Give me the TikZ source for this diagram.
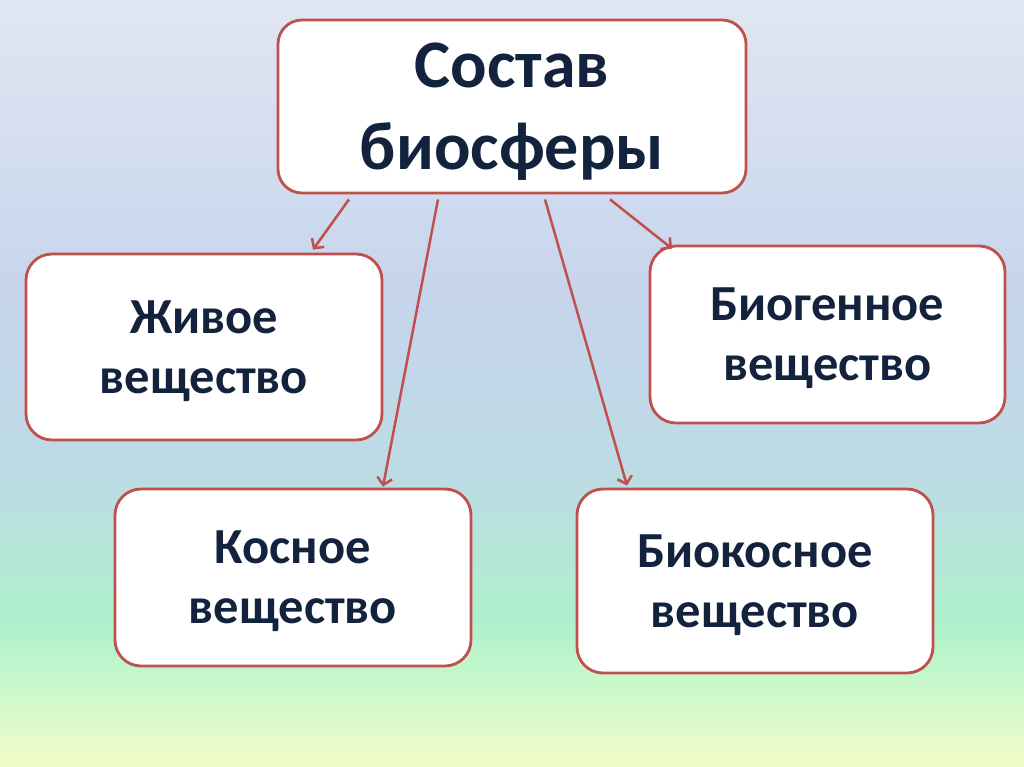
\documentclass[tikz,border=0pt]{standalone}
\usepackage{fontspec}
\setmainfont{Carlito}
\usetikzlibrary{arrows.meta}
\definecolor{edge}{HTML}{C0504D}
\definecolor{ink}{HTML}{13233D}
\definecolor{bgA}{HTML}{F2FCC8}
\definecolor{bgB}{HTML}{C6F8CC}
\definecolor{bgC}{HTML}{AEF0CC}
\definecolor{bgD}{HTML}{BCDCE4}
\definecolor{bgE}{HTML}{C6D4EC}
\definecolor{bgF}{HTML}{E0E7F2}
\pgfdeclareverticalshading{bgshade}{100bp}{color(0bp)=(bgA); color(25bp)=(bgA); color(30.67bp)=(bgB); color(34.58bp)=(bgC); color(43.71bp)=(bgD); color(55.44bp)=(bgE); color(75bp)=(bgF); color(100bp)=(bgF)}
\tikzset{
  box/.style={draw=edge, line width=2.8pt, fill=white, rounded corners=26pt,
    align=center, text=ink, inner sep=0pt, text depth=0pt, font=\bfseries\fontsize{50.5}{60}\selectfont},
  topbox/.style={box, font=\bfseries\fontsize{68}{82}\selectfont, rounded corners=24pt},
  link/.style={draw=edge, line width=2.5pt, -{Straight Barb[length=7pt,width=15pt,line width=2.5pt]}}
}
\begin{document}
\begin{tikzpicture}[x=1pt,y=-1pt]
\useasboundingbox (0,0) rectangle (1024,767);
\shade[shading=bgshade] (0,0) rectangle (1024,767);
\node[topbox, minimum width=468pt, minimum height=173pt] (top) at (512,106.5) {Состав\\биосферы};
\node[box, minimum width=356pt, minimum height=186pt] (live) at (204,347) {Живое\\вещество};
\node[box, minimum width=355pt, minimum height=177pt] (biogen) at (827.5,334.5) {Биогенное\\вещество};
\node[box, minimum width=356pt, minimum height=177pt] (inert) at (293,577.5) {Косное\\вещество};
\node[box, minimum width=356pt, minimum height=184pt] (bioinert) at (755,581) {Биокосное\\вещество};
\draw[link] ([xshift=-163pt,yshift=-5pt]top.south) -- ([xshift=109pt,yshift=3pt]live.north);
\draw[link] ([xshift=-74pt,yshift=-5pt]top.south) -- ([xshift=90pt,yshift=1pt]inert.north);
\draw[link] ([xshift=33pt,yshift=-5pt]top.south) -- ([xshift=-128pt,yshift=2pt]bioinert.north);
\draw[link] ([xshift=98pt,yshift=-5pt]top.south) -- ([xshift=-155.5pt,yshift=-4pt]biogen.north);
\end{tikzpicture}
\end{document}
